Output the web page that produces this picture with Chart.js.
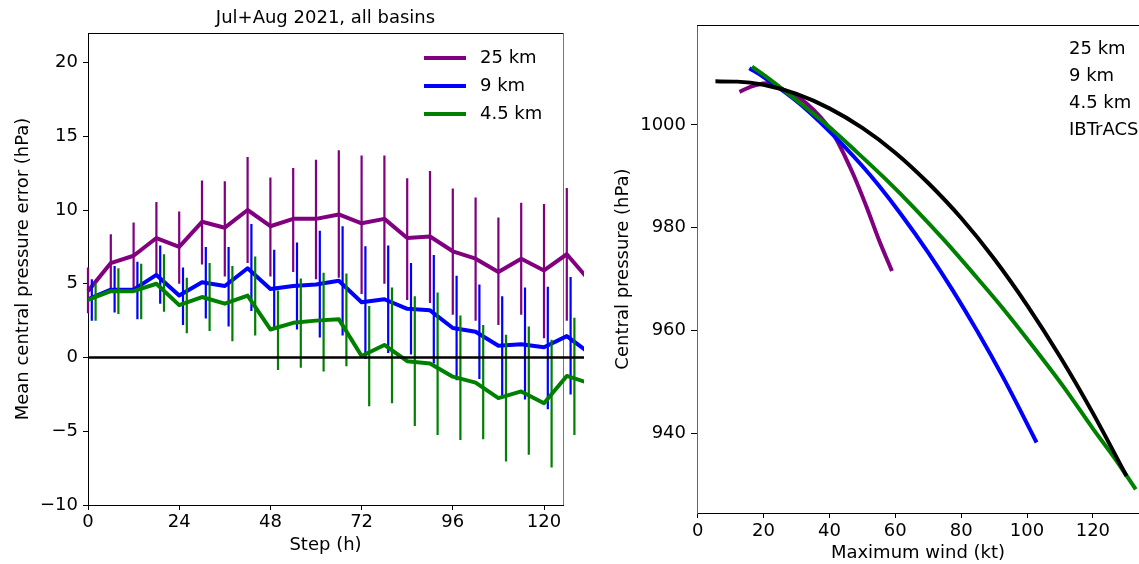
<!DOCTYPE html>
<html>
<head>
<meta charset="utf-8">
<title>Central pressure error / pressure-wind</title>
<script src="https://cdn.jsdelivr.net/npm/chart.js@4.4.1/dist/chart.umd.min.js"></script>
<style>
  body { margin: 0; background: #fff; width: 1139px; height: 564px; overflow: hidden; position: relative; }
  canvas { position: absolute; top: 0; }
  #error-chart { left: 0; }
  #pw-chart { left: 600px; }
</style>
</head>
<body>
<canvas id="error-chart" width="600" height="564"></canvas>
<canvas id="pw-chart" width="539" height="564"></canvas>
<script>
// ---- left panel: mean central pressure error by forecast step ----
const steps = [0, 6, 12, 18, 24, 30, 36, 42, 48, 54, 60, 66, 72, 78, 84, 90, 96, 102, 108, 114, 120, 126, 132];

const err25 = [4.5, 6.4, 6.9, 8.1, 7.5, 9.2, 8.8, 10.0, 8.9, 9.4, 9.4, 9.7, 9.1, 9.4, 8.1, 8.2, 7.2, 6.7, 5.8, 6.7, 5.9, 7.0, 5.2];
const hi25  = [6.1, 8.35, 9.15, 10.55, 9.9, 12.0, 11.95, 13.6, 12.2, 12.85, 13.4, 14.05, 13.7, 13.7, 12.15, 12.65, 11.45, 10.85, 9.5, 10.5, 10.4, 11.5];
const lo25  = [3.0, 4.5, 4.7, 5.7, 5.0, 6.3, 5.5, 6.4, 5.5, 5.8, 5.3, 5.4, 4.3, 5.0, 3.9, 3.7, 2.9, 2.5, 2.2, 2.9, 1.3, 2.5];

const err9 = [3.95, 4.6, 4.6, 5.6, 4.2, 5.1, 4.85, 6.05, 4.65, 4.85, 4.95, 5.2, 3.75, 3.95, 3.3, 3.2, 2.0, 1.75, 0.8, 0.9, 0.7, 1.45, 0.3];
const hi9  = [5.3, 6.2, 6.5, 7.6, 6.1, 7.5, 7.5, 9.05, 7.3, 7.8, 8.6, 8.9, 7.55, 7.6, 6.4, 6.95, 5.55, 4.95, 4.15, 4.75, 4.8, 5.45];
const lo9  = [2.5, 3.05, 2.6, 3.65, 2.2, 2.65, 2.1, 3.15, 2.0, 1.9, 1.35, 1.5, -0.1, 0.3, 0.2, -0.4, -1.55, -1.45, -2.6, -2.85, -3.5, -2.5];

const err45 = [3.9, 4.5, 4.5, 5.0, 3.55, 4.1, 3.65, 4.2, 1.9, 2.35, 2.5, 2.6, 0.1, 0.85, -0.25, -0.4, -1.3, -1.7, -2.75, -2.3, -3.1, -1.25, -1.75];
const hi45  = [5.0, 6.05, 6.35, 7.0, 5.4, 6.4, 6.2, 6.85, 4.55, 5.35, 5.75, 5.7, 3.5, 4.75, 4.15, 4.4, 2.85, 2.2, 1.55, 2.1, 1.2, 2.7];
const lo45  = [2.5, 2.95, 2.6, 3.1, 1.65, 1.8, 1.1, 1.5, -0.85, -0.7, -0.95, -0.6, -3.3, -3.1, -4.65, -5.25, -5.6, -5.55, -7.05, -6.6, -7.45, -5.25];

const stepTicks = [0, 24, 48, 72, 96, 120];
const errorTicks = [-10, -5, 0, 5, 10, 15, 20];

// ---- right panel: pressure-wind curves ----
const wind25 = [12.7, 15.7, 20.8, 26.9, 33, 41, 47.1, 51.2, 55.2, 59];
const pres25 = [1006.4, 1007.3, 1008.1, 1006.5, 1004.2, 998.4, 990.6, 984.2, 977.4, 971.6];

const wind9 = [15.7, 20, 27, 33, 39, 45, 50, 55, 62, 70, 77.5, 85, 92.7, 98, 102.9];
const pres9 = [1011.0, 1009.3, 1006.1, 1003.0, 999.4, 995.5, 992.0, 988.2, 982.4, 975.2, 967.8, 959.8, 951.0, 944.5, 938.3];

const wind45 = [16.5, 22, 30, 39, 48, 57, 66, 75, 84, 93, 102, 111, 120, 127, 133];
const pres45 = [1011.3, 1008.8, 1004.8, 1000.1, 994.9, 989.5, 983.7, 977.5, 970.9, 964.1, 956.8, 949.2, 941.0, 934.9, 929.2];

const windObs = [5.4, 12, 20, 30, 40, 50, 60, 70, 80, 90, 100, 110, 120, 130.2];
const presObs = [1008.45, 1008.4, 1007.8, 1006.0, 1003.2, 999.4, 994.6, 988.7, 981.9, 974.0, 965.0, 955.0, 944.0, 931.8];

const windTicks = [0, 20, 40, 60, 80, 100, 120];
const presTicks = [940, 960, 980, 1000];

const seriesNames = ['25 km', '9 km', '4.5 km'];
const obsName = 'IBTrACS';

const PURPLE = '#800080';
const BLUE = '#0000ff';
const GREEN = '#008000';
const FONT = { family: 'DejaVu Sans', size: 18 };

function xy(xs, ys) {
    return xs.map((x, i) => ({ x: x, y: ys[i] }));
}

// vertical error bars as broken line segments, shifted a little in x per series
function errorBars(hi, lo, offset) {
    const pts = [];
    hi.forEach((h, i) => {
        const x = steps[i] + offset;
        pts.push({ x: x, y: lo[i] }, { x: x, y: h }, { x: x, y: null });
    });
    return pts;
}

// the left panel's lines run a little past its right spine
const overflow = { left: 5, top: 0, right: 21, bottom: 0 };

function lineSet(label, data, color, order, width) {
    return {
        label: label, data: data, borderColor: color, borderWidth: width || 4,
        pointRadius: 0, borderJoinStyle: 'round', clip: overflow, order: order
    };
}

function barSet(data, color, order) {
    return {
        data: data, borderColor: color, borderWidth: 2.2, pointRadius: 0,
        spanGaps: false, clip: overflow, order: order
    };
}

const framePlugin = {
    id: 'frame',
    beforeDatasetsDraw(chart, args, opts) {
        const { ctx, chartArea: a } = chart;
        ctx.save();
        ctx.lineWidth = 1;
        ctx.strokeStyle = '#000';
        ctx.beginPath();
        ctx.moveTo(a.left, a.top + 0.5);
        ctx.lineTo(a.right, a.top + 0.5);
        ctx.stroke();
        if (opts.right) {
            ctx.strokeStyle = opts.right;
            ctx.beginPath();
            ctx.moveTo(a.right + 0.5, a.top);
            ctx.lineTo(a.right + 0.5, a.bottom);
            ctx.stroke();
        }
        ctx.restore();
    }
};

const textPlugin = {
    id: 'texts',
    afterDraw(chart, args, opts) {
        const ctx = chart.ctx;
        ctx.save();
        ctx.font = FONT.size + 'px ' + FONT.family;
        ctx.fillStyle = '#000';
        ctx.textBaseline = 'middle';
        if (opts.title) {
            const a = chart.chartArea;
            ctx.textAlign = 'center';
            ctx.fillText(opts.title, (a.left + a.right) / 2, 18);
        }
        ctx.textAlign = 'left';
        (opts.items || []).forEach((it, i) => {
            const y = opts.y + i * opts.gap;
            if (opts.swatch) {
                ctx.strokeStyle = it.color;
                ctx.lineWidth = 4;
                ctx.beginPath();
                ctx.moveTo(opts.x, y);
                ctx.lineTo(opts.x + opts.swatch, y);
                ctx.stroke();
            }
            ctx.fillText(it.text, opts.x + (opts.swatch ? opts.swatch + 14 : 0), y);
        });
        ctx.restore();
    }
};

// fixed tick list; optional limits are applied after tick building so that
// data beyond them is still handed to the line renderer (and clipped by `clip`)
function fixedTicks(values, min, max) {
    return scale => {
        scale.ticks = values.map(v => ({ value: v }));
        if (min !== undefined) { scale.min = min; scale.max = max; }
    };
}

Chart.defaults.font.family = FONT.family;
Chart.defaults.font.size = FONT.size;
Chart.defaults.color = '#000';

new Chart(document.getElementById('error-chart'), {
    type: 'line',
    data: {
        datasets: [
            lineSet('zero', [{ x: steps[0], y: 0 }, { x: steps[steps.length - 1], y: 0 }], '#000', 0, 2.6),
            lineSet(seriesNames[2], xy(steps, err45), GREEN, 1),
            barSet(errorBars(hi45, lo45, 2), GREEN, 2),
            lineSet(seriesNames[1], xy(steps, err9), BLUE, 3),
            barSet(errorBars(hi9, lo9, 1), BLUE, 4),
            lineSet(seriesNames[0], xy(steps, err25), PURPLE, 5),
            barSet(errorBars(hi25, lo25, 0), PURPLE, 6)
        ]
    },
    options: {
        responsive: false,
        animation: false,
        devicePixelRatio: 1,
        layout: { padding: { left: 0, right: 37, top: 33, bottom: 0 } },
        plugins: {
            legend: { display: false },
            tooltip: { enabled: false },
            frame: { right: '#777' },
            texts: {
                title: 'Jul+Aug 2021, all basins',
                x: 424, y: 58, gap: 28, swatch: 42,
                items: seriesNames.map((t, i) => ({ text: t, color: [PURPLE, BLUE, GREEN][i] }))
            }
        },
        scales: {
            x: {
                type: 'linear',
                afterBuildTicks: fixedTicks(stepTicks, 0, 125),
                afterFit: s => { s.height = 59; },
                grid: { drawOnChartArea: false, tickLength: 5, tickColor: '#000' },
                border: { color: '#000' },
                ticks: { padding: 2, maxRotation: 0 },
                title: { display: true, text: 'Step (h)', padding: { top: 0, bottom: 8 } }
            },
            y: {
                type: 'linear', min: -10, max: 22,
                afterBuildTicks: fixedTicks(errorTicks),
                afterFit: s => { s.width = 88; },
                grid: { drawOnChartArea: false, tickLength: 5, tickColor: '#000' },
                border: { color: '#000' },
                ticks: { padding: 5, callback: v => (v < 0 ? '\u2212' + Math.abs(v) : String(v)) },
                title: { display: true, text: 'Mean central pressure error (hPa)', padding: { top: 13, bottom: 0 } }
            }
        }
    },
    plugins: [framePlugin, textPlugin]
});

new Chart(document.getElementById('pw-chart'), {
    type: 'line',
    data: {
        datasets: [
            lineSet(obsName, xy(windObs, presObs), '#000', 0),
            lineSet(seriesNames[2], xy(wind45, pres45), GREEN, 1),
            lineSet(seriesNames[1], xy(wind9, pres9), BLUE, 2),
            lineSet(seriesNames[0], xy(wind25, pres25), PURPLE, 3)
        ].map(d => Object.assign(d, { tension: 0.4, cubicInterpolationMode: 'monotone', clip: 0 }))
    },
    options: {
        responsive: false,
        animation: false,
        devicePixelRatio: 1,
        layout: { padding: { left: 0, right: 0, top: 25, bottom: 0 } },
        plugins: {
            legend: { display: false },
            tooltip: { enabled: false },
            frame: {},
            texts: {
                x: 469, y: 49, gap: 27,
                items: seriesNames.concat([obsName]).map(t => ({ text: t }))
            }
        },
        scales: {
            x: {
                type: 'linear', min: -0.2, max: 134,
                afterBuildTicks: fixedTicks(windTicks),
                afterFit: s => { s.height = 51; },
                grid: { drawOnChartArea: false, tickLength: 5, tickColor: '#000' },
                border: { color: '#000' },
                ticks: { padding: 3, maxRotation: 0, callback: v => String(v) },
                title: { display: true, text: 'Maximum wind (kt)', padding: { top: 0, bottom: 0 } }
            },
            y: {
                type: 'linear', min: 924.6, max: 1019.4,
                afterBuildTicks: fixedTicks(presTicks),
                afterFit: s => { s.width = 97; },
                grid: { drawOnChartArea: false, tickLength: 6, tickColor: '#000' },
                border: { color: '#666' },
                ticks: { padding: 5, callback: v => String(v) },
                title: { display: true, text: 'Central pressure (hPa)', padding: { top: 13, bottom: 0 } }
            }
        }
    },
    plugins: [framePlugin, textPlugin]
});
</script>
</body>
</html>
